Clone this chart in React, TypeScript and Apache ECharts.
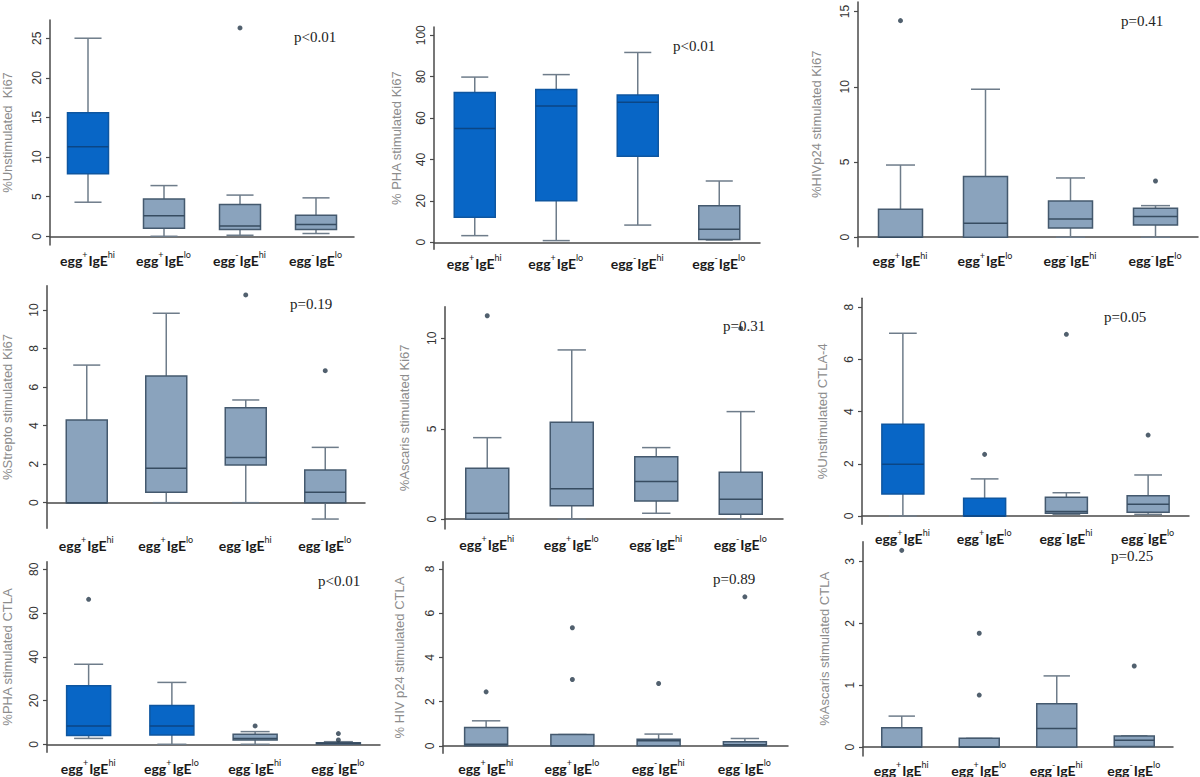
import React, { useEffect, useRef } from "react";
import * as echarts from "echarts";

const categories = ["egg+IgEhi", "egg+IgElo", "egg-IgEhi", "egg-IgElo"];

// Each box: [lower whisker, Q1, median, Q3, upper whisker]
const unstimKi67 = [[4.3, 7.9, 11.3, 15.6, 25.0], [0, 1.0, 2.6, 4.7, 6.4], [0.13, 0.85, 1.3, 4.0, 5.2], [0.35, 0.85, 1.5, 2.65, 4.85]];
const unstimKi67Outliers = [[2, 26.3]];
const unstimKi67Highlight = [1, 0, 0, 0];
const unstimKi67Ticks = [0, 5, 10, 15, 20, 25];

const phaKi67 = [[3.2, 12.1, 55.0, 72.4, 79.8], [0.8, 20.0, 65.8, 73.8, 81.0], [8.3, 41.6, 67.6, 71.2, 91.7], [1.1, 1.3, 6.3, 17.7, 29.6]];
const phaKi67Outliers: number[][] = [];
const phaKi67Highlight = [1, 1, 1, 0];
const phaKi67Ticks = [0, 20, 40, 60, 80, 100];

const hivKi67 = [[0, 0, 0, 1.86, 4.8], [0, 0, 0.93, 4.03, 9.84], [0, 0.62, 1.22, 2.41, 3.94], [0, 0.82, 1.37, 1.93, 2.1]];
const hivKi67Outliers = [[0, 14.4], [3, 3.74]];
const hivKi67Highlight = [0, 0, 0, 0];
const hivKi67Ticks = [0, 5, 10, 15];

const streptoKi67 = [[0, 0, 0, 4.29, 7.14], [0, 0.54, 1.78, 6.57, 9.83], [0, 1.96, 2.34, 4.93, 5.33], [-0.85, 0, 0.54, 1.7, 2.87]];
const streptoKi67Outliers = [[2, 10.78], [3, 6.85]];
const streptoKi67Highlight = [0, 0, 0, 0];
const streptoKi67Ticks = [0, 2, 4, 6, 8, 10];

const ascarisKi67 = [[0, 0, 0.33, 2.82, 4.51], [0, 0.74, 1.68, 5.36, 9.36], [0.33, 1.01, 2.08, 3.46, 3.96], [0, 0.28, 1.1, 2.6, 5.95]];
const ascarisKi67Outliers = [[0, 11.25], [3, 10.55]];
const ascarisKi67Highlight = [0, 0, 0, 0];
const ascarisKi67Ticks = [0, 5, 10];

const unstimCTLA = [[0, 0.84, 1.98, 3.51, 7.0], [0, 0, 0, 0.68, 1.42], [0.06, 0.1, 0.17, 0.72, 0.89], [0.06, 0.14, 0.45, 0.77, 1.57]];
const unstimCTLAOutliers = [[1, 2.36], [2, 6.96], [3, 3.1]];
const unstimCTLAHighlight = [1, 1, 0, 0];
const unstimCTLATicks = [0, 2, 4, 6, 8];

const phaCTLA = [[2.7, 4.0, 8.4, 26.8, 36.6], [0, 4.3, 8.4, 17.7, 28.3], [0, 2.0, 2.7, 4.6, 5.8], [0, 0.15, 0.45, 0.76, 1.2]];
const phaCTLAOutliers = [[0, 66.3], [2, 8.4], [3, 2.0], [3, 4.9]];
const phaCTLAHighlight = [1, 1, 0, 0];
const phaCTLATicks = [0, 20, 40, 60, 80];

const hivCTLA = [[0, 0, 0.075, 0.83, 1.13], [0, 0, 0, 0.51, 0.51], [0, 0, 0.23, 0.3, 0.53], [0, 0, 0.05, 0.18, 0.33]];
const hivCTLAOutliers = [[0, 2.44], [1, 3.0], [1, 5.34], [2, 2.82], [3, 6.74]];
const hivCTLAHighlight = [0, 0, 0, 0];
const hivCTLATicks = [0, 2, 4, 6, 8];

const ascarisCTLA = [[0, 0, 0, 0.31, 0.5], [0, 0, 0, 0.14, 0.14], [0, 0, 0.3, 0.7, 1.15], [0, 0.01, 0.11, 0.18, 0.18]];
const ascarisCTLAOutliers = [[0, 3.18], [1, 0.84], [1, 1.84], [3, 1.31]];
const ascarisCTLAHighlight = [0, 0, 0, 0];
const ascarisCTLATicks = [0, 1, 2, 3];

const yTitles = [
  "%Unstimulated  Ki67",
  "% PHA stimulated Ki67",
  "%HIVp24 stimulated Ki67",
  "%Strepto stimulated Ki67",
  "%Ascaris stimulated Ki67",
  "%Unstimulated CTLA-4",
  "%PHA stimulated CTLA",
  "% HIV p24 stimulated CTLA",
  "%Ascaris stimulated CTLA",
];
const pValues = ["p<0.01", "p<0.01", "p=0.41", "p=0.19", "p=0.31", "p=0.05", "p<0.01", "p=0.89", "p=0.25"];

const panelStats = [unstimKi67, phaKi67, hivKi67, streptoKi67, ascarisKi67, unstimCTLA, phaCTLA, hivCTLA, ascarisCTLA];
const panelOutliers = [unstimKi67Outliers, phaKi67Outliers, hivKi67Outliers, streptoKi67Outliers, ascarisKi67Outliers, unstimCTLAOutliers, phaCTLAOutliers, hivCTLAOutliers, ascarisCTLAOutliers];
const panelHighlight = [unstimKi67Highlight, phaKi67Highlight, hivKi67Highlight, streptoKi67Highlight, ascarisKi67Highlight, unstimCTLAHighlight, phaCTLAHighlight, hivCTLAHighlight, ascarisCTLAHighlight];
const panelTicks = [unstimKi67Ticks, phaKi67Ticks, hivKi67Ticks, streptoKi67Ticks, ascarisKi67Ticks, unstimCTLATicks, phaCTLATicks, hivCTLATicks, ascarisCTLATicks];

// Layout (pixels) and axis extents
const layout = [
  { left: 44, top: 20, width: 310, bottom: 245, yMin: -1.1, yMax: 27.3, gap: 36, boxW: 41, px: 318, py: 38, lm: 5 },
  { left: 434, top: 27, width: 326, bottom: 249.3, yMin: -3.4, yMax: 104, gap: 31, boxW: 41, px: 697, py: 47, lm: 4 },
  { left: 858, top: 2, width: 340, bottom: 246.7, yMin: -0.63, yMax: 15.64, gap: 35, boxW: 44, px: 1145, py: 22, lm: 4 },
  { left: 41, top: 285.7, width: 324, bottom: 528.3, yMin: -1.33, yMax: 11.26, gap: 33, boxW: 41, px: 314, py: 305, lm: 7 },
  { left: 445, top: 306.7, width: 338, bottom: 529, yMin: -0.54, yMax: 11.75, gap: 34, boxW: 43, px: 747, py: 327, lm: 5 },
  { left: 862, top: 298.3, width: 327, bottom: 524.3, yMin: -0.32, yMax: 8.34, gap: 33, boxW: 42, px: 1128, py: 318, lm: 4 },
  { left: 42, top: 561.7, width: 338, bottom: 752.3, yMin: -3.66, yMax: 83.5, gap: 33, boxW: 44, px: 342, py: 582, lm: 6 },
  { left: 443, top: 561.7, width: 345, bottom: 753.3, yMin: -0.34, yMax: 8.33, gap: 37, boxW: 43, px: 737, py: 580, lm: 5 },
  { left: 863, top: 541.7, width: 310, bottom: 756.7, yMin: -0.145, yMax: 3.32, gap: 32, boxW: 40, px: 1135, py: 557, lm: 4 },
];

function catLabel(v: string) {
  const m = /^egg([+-])IgE(hi|lo)$/.exec(v);
  if (!m) return v;
  return `{b|egg}{s|${m[1]}}{b|IgE}{s|${m[2]}}`;
}

export default function App() {
  const ref = useRef<HTMLDivElement>(null);
  useEffect(() => {
    document.body.style.margin = "0";
    if (!ref.current) return;
    const chart = echarts.init(ref.current, null, { renderer: "svg" });
    const grids: any[] = [];
    const xAxes: any[] = [];
    const yAxes: any[] = [];
    const series: any[] = [];
    const graphics: any[] = [];

    layout.forEach((L, k) => {
      grids.push({ left: L.left, top: L.top, width: L.width, height: L.bottom - L.top, containLabel: false });
      xAxes.push({
        type: "category",
        gridIndex: k,
        data: categories,
        boundaryGap: true,
        axisTick: { show: false },
        axisLine: { lineStyle: { color: "#4a4a4a", width: 1.5 } },
        axisLabel: {
          margin: L.lm,
          interval: 0,
          formatter: catLabel,
          rich: {
            b: { fontFamily: "Lato", fontWeight: "bold", fontSize: 14, color: "#1a1a1a", lineHeight: 17, verticalAlign: "bottom" },
            s: { fontFamily: "Lato", fontSize: 9, color: "#1a1a1a", lineHeight: 17, verticalAlign: "top", padding: [0, 1, 7, 0] },
          },
        },
      });
      const ticks = panelTicks[k];
      yAxes.push({
        type: "value",
        gridIndex: k,
        min: L.yMin,
        max: L.yMax,
        splitLine: { show: false },
        axisLine: { show: true, lineStyle: { color: "#4a4a4a", width: 1.5 } },
        axisTick: { show: true, length: 4, customValues: ticks, lineStyle: { color: "#4a4a4a", width: 1.2 } },
        axisLabel: {
          customValues: ticks,
          rotate: 90,
          margin: 7,
          fontSize: 12,
          fontFamily: "Liberation Sans",
          color: "#333",
        },
        name: yTitles[k],
        nameLocation: "middle",
        nameGap: L.gap,
        nameRotate: 90,
        nameTextStyle: { color: "#8c8c8c", fontSize: 13, fontFamily: "Liberation Sans" },
      });
      const stats = panelStats[k];
      const hl = panelHighlight[k];
      const boxW = L.boxW;
      series.push({
        type: "custom",
        xAxisIndex: k,
        yAxisIndex: k,
        data: stats.map((s, i) => [i, s[0], s[1], s[2], s[3], s[4], hl[i]]),
        encode: { x: 0, y: [1, 2, 3, 4, 5] },
        renderItem: (params: any, api: any) => {
          const i = api.value(0);
          const lo = api.coord([i, api.value(1)]);
          const q1 = api.coord([i, api.value(2)]);
          const md = api.coord([i, api.value(3)]);
          const q3 = api.coord([i, api.value(4)]);
          const hi = api.coord([i, api.value(5)]);
          const blue = api.value(6) === 1;
          const x = lo[0];
          const hw = boxW / 2;
          const cw = boxW * 0.33;
          const fill = blue ? "#0866c6" : "#8aa3bd";
          const edge = blue ? "#0e56a0" : "#44596e";
          const mc = blue ? "#0b4685" : "#374c61";
          const wc = "#6e7c8a";
          const ws = { stroke: wc, lineWidth: 1.5 };
          return {
            type: "group",
            children: [
              { type: "line", shape: { x1: x, y1: hi[1], x2: x, y2: q3[1] }, style: ws },
              { type: "line", shape: { x1: x, y1: q1[1], x2: x, y2: lo[1] }, style: ws },
              { type: "line", shape: { x1: x - cw, y1: hi[1], x2: x + cw, y2: hi[1] }, style: ws },
              { type: "line", shape: { x1: x - cw, y1: lo[1], x2: x + cw, y2: lo[1] }, style: ws },
              { type: "rect", shape: { x: x - hw, y: q3[1], width: boxW, height: q1[1] - q3[1] }, style: { fill, stroke: edge, lineWidth: 1.5 } },
              { type: "line", shape: { x1: x - hw, y1: md[1], x2: x + hw, y2: md[1] }, style: { stroke: mc, lineWidth: 1.5 } },
            ],
          };
        },
      });
      series.push({
        type: "scatter",
        xAxisIndex: k,
        yAxisIndex: k,
        symbol: "circle",
        symbolSize: 5,
        itemStyle: { color: "#25384a" },
        data: panelOutliers[k],
        z: 5,
      });
      graphics.push({
        type: "text",
        left: L.px - 24,
        top: L.py - 9,
        style: { text: pValues[k], fill: "#222", font: "15px 'Liberation Serif'" },
        z: 10,
      });
    });

    chart.setOption({
      animation: false,
      backgroundColor: "#ffffff",
      grid: grids,
      xAxis: xAxes,
      yAxis: yAxes,
      series,
      graphic: graphics,
    });
    return () => chart.dispose();
  }, []);
  return <div ref={ref} style={{ width: 1200, height: 777 }} />;
}
